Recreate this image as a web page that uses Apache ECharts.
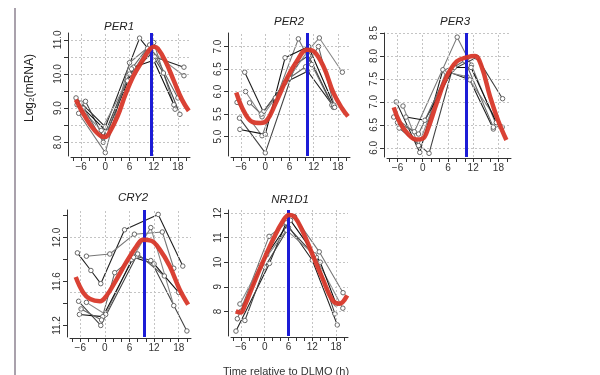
<!DOCTYPE html>
<html>
<head>
<meta charset="UTF-8">
<title>Clock gene expression relative to DLMO</title>
<script src="https://cdn.jsdelivr.net/npm/echarts@6/dist/echarts.min.js"></script>
<style>
    body { margin: 0; padding: 0; background: #fff; }
    #main { width: 600px; height: 375px; }
</style>
</head>
<body>
<div id="main"></div>
<script>
// x axis (hours relative to DLMO)
var hourTicks = [-8, -6, -4, -2, 0, 2, 4, 6, 8, 10, 12, 14, 16, 18, 20];
var hourLabels = [-6, 0, 6, 12, 18];

var genes = ['PER1', 'PER2', 'PER3', 'CRY2', 'NR1D1'];
// blue line = fitted peak time
var peakHours = [11.3, 10.5, 10.3, 9.6, 6.0];

// red fitted curves
var per1FitHours = [-7.3, -5, -3, -1, 0, 1, 3, 5, 7, 9, 11, 12, 13, 15, 17, 19, 20.7];
var per1FitValues = [9.25, 8.75, 8.4, 8.18, 8.16, 8.28, 8.75, 9.4, 9.95, 10.35, 10.72, 10.8, 10.75, 10.35, 9.8, 9.25, 8.92];
var per2FitHours = [-7.2, -5.3, -3.3, -1.2, 0.4, 2.5, 5.4, 7.8, 10.3, 11.9, 14.4, 16.9, 19, 20.5];
var per2FitValues = [5.98, 5.56, 5.33, 5.3, 5.36, 5.73, 6.3, 6.67, 6.93, 6.9, 6.56, 5.97, 5.63, 5.45];
var per3FitHours = [-6.9, -5.5, -3.5, -1.5, 0, 1.3, 3.3, 5.7, 8.1, 10.5, 12.4, 14, 16, 18, 19.9];
var per3FitValues = [6.88, 6.56, 6.3, 6.18, 6.2, 6.43, 6.97, 7.55, 7.88, 7.97, 8.0, 7.77, 7.12, 6.58, 6.17];
var cry2FitHours = [-7.1, -5.3, -3.6, -1.2, 0.4, 2.85, 5.3, 7.7, 9.3, 11.3, 13.4, 15.8, 18.2, 20.3];
var cry2FitValues = [11.64, 11.5, 11.44, 11.42, 11.47, 11.62, 11.78, 11.92, 11.98, 11.97, 11.89, 11.74, 11.53, 11.39];
var nr1d1FitHours = [-7.3, -6.1, -5, -2.9, -0.4, 2.1, 4.6, 6.1, 7.5, 9.6, 12.1, 14.6, 17.1, 18.8, 20.8];
var nr1d1FitValues = [8.0, 7.95, 8.25, 9.08, 10.03, 10.92, 11.67, 11.92, 11.85, 11.24, 10.29, 9.33, 8.45, 8.31, 8.65];

// individual subjects [hour, log2 mRNA]
var per1Subjects = [
    [[-7.25, 9.3], [0, 8.45], [8.5, 11.05], [12.25, 10.5], [19.5, 10.2]],
    [[-6.6, 8.85], [0, 7.7], [6.0, 10.33], [12.0, 10.92], [17.3, 8.97]],
    [[-4.9, 9.2], [-0.5, 8.15], [6, 10.0], [11.5, 10.6], [14.4, 10.03], [18.5, 8.82]],
    [[-7, 9.1], [-1, 8.35], [5.5, 9.8], [10.5, 10.75], [19.5, 9.95]],
    [[-5.5, 9.0], [0.5, 8.3], [7, 10.2], [12, 10.4], [17, 9.1]],
    [[-6, 9.15], [-0.5, 8.0], [6.5, 10.15], [11, 10.85], [18, 9.3]]
];
var per2Subjects = [
    [[-5.1, 6.43], [-0.5, 5.55], [4.9, 6.2], [10.5, 6.45], [16.9, 5.67]],
    [[-7, 5.76], [-0.8, 5.02], [8.2, 7.17], [11.5, 6.6], [16.5, 5.7]],
    [[-6.4, 5.41], [0, 4.64], [7.5, 6.6], [10.7, 6.8], [16.9, 5.65]],
    [[-4.9, 6.0], [-0.8, 5.44], [2.5, 5.86], [10.5, 6.9], [13.4, 7.19], [19.1, 6.43]],
    [[-6.3, 5.16], [0, 5.05], [4.9, 6.75], [10.7, 7.0], [17, 5.7]],
    [[-3.9, 5.75], [-1, 5.5], [6, 6.3], [10, 6.55], [13.2, 7.0], [17.2, 5.65]]
];
var per3Subjects = [
    [[-6.3, 7.0], [-0.7, 5.9], [4.8, 7.7], [11.2, 7.48], [16.8, 6.41]],
    [[-6.9, 6.67], [-2, 6.35], [8.2, 8.41], [11.6, 7.8], [17.5, 6.5]],
    [[-5.6, 6.43], [1.5, 5.88], [7, 7.7], [12.9, 7.97], [19, 7.07]],
    [[-4.7, 6.91], [-1, 6.05], [5.5, 7.65], [10.5, 7.55], [18.9, 6.45]],
    [[-4.0, 6.67], [0.5, 6.6], [7.5, 7.75], [11.5, 7.75], [17.5, 6.55]],
    [[-6, 6.55], [-1, 6.3], [6, 7.68], [10, 7.9], [16.8, 6.45]]
];
var cry2Subjects = [
    [[-6.7, 11.86], [-3.4, 11.7], [-1, 11.58], [4.8, 12.07], [13, 12.21], [19, 11.74]],
    [[-4.5, 11.83], [1.2, 11.85], [7.2, 12.03], [14, 12.05], [16.8, 11.72]],
    [[-6.4, 11.42], [-1, 11.2], [7.7, 11.83], [11.2, 11.79], [20, 11.15]],
    [[-4.5, 11.41], [0.2, 11.3], [6.5, 11.8], [11.2, 12.09], [16.8, 11.38]],
    [[-6.2, 11.3], [-0.5, 11.28], [7, 11.82], [12, 11.76], [18, 11.5]],
    [[-5.8, 11.35], [-0.8, 11.25], [2.4, 11.68], [8, 11.85], [14.5, 11.65]]
];
var nr1d1Subjects = [
    [[-7.25, 7.2], [1.2, 9.95], [5.4, 11.6], [12, 10.08], [18.3, 7.45]],
    [[-6.9, 7.7], [1.1, 11.05], [7.5, 11.85], [13.75, 10.42], [19.75, 8.76]],
    [[-5, 7.63], [0, 9.8], [6, 11.4], [13, 10.2], [17.7, 7.9]],
    [[-6.25, 8.3], [-1, 9.9], [5.5, 11.3], [12.5, 10.3], [19.7, 8.13]],
    [[-6, 8.0], [0.5, 10.3], [6.5, 11.7], [14, 10.0], [18, 8.3]]
];

// y ticks / labels / grid per panel
var per1Ticks = [8, 8.5, 9, 9.5, 10, 10.5, 11];
var per1Labels = [8, 9, 10, 11];
var per2Ticks = [5, 5.5, 6, 6.5, 7];
var per3Ticks = [6, 6.5, 7, 7.5, 8, 8.5];
var cry2Ticks = [11.2, 11.4, 11.6, 11.8, 12.0, 12.2];
var cry2Labels = [11.2, 11.6, 12.0];
var cry2Grid = [11.5, 12.0];
var nr1d1Ticks = [8, 9, 10, 11, 12];

var panels = [
    { fitH: per1FitHours, fitV: per1FitValues, subj: per1Subjects, ticks: per1Ticks, labels: per1Labels, grid: per1Ticks,
      min: 7.6, max: 11.2, box: [71, 33, 119, 123], title: [119, 27], dec: 1 },
    { fitH: per2FitHours, fitV: per2FitValues, subj: per2Subjects, ticks: per2Ticks, labels: per2Ticks, grid: per2Ticks,
      min: 4.57, max: 7.3, box: [231, 33, 119, 123], title: [289, 22], dec: 1 },
    { fitH: per3FitHours, fitV: per3FitValues, subj: per3Subjects, ticks: per3Ticks, labels: per3Ticks, grid: per3Ticks,
      min: 5.8, max: 8.5, box: [387, 33, 124, 124], title: [455, 22], dec: 1 },
    { fitH: cry2FitHours, fitV: cry2FitValues, subj: cry2Subjects, ticks: cry2Ticks, labels: cry2Labels, grid: cry2Grid,
      min: 11.095, max: 12.25, box: [70, 210, 121, 127], title: [133, 198], dec: 1 },
    { fitH: nr1d1FitHours, fitV: nr1d1FitValues, subj: nr1d1Subjects, ticks: nr1d1Ticks, labels: nr1d1Ticks, grid: nr1d1Ticks,
      min: 7.0, max: 12.12, box: [231, 210, 117, 126], title: [290, 200], dec: 0 }
];

var subjColors = ['#222', '#777', '#444', '#888', '#111', '#666'];

var grids = [], xAxes = [], yAxes = [], series = [], graphics = [];

panels.forEach(function (p, i) {
    grids.push({ left: p.box[0], top: p.box[1], width: p.box[2], height: p.box[3] });
    xAxes.push({
        gridIndex: i, type: 'value', min: -8.5, max: 21, offset: 1,
        axisLine: { show: true, onZero: false, lineStyle: { color: '#333', width: 1 } },
        axisTick: { show: true, customValues: hourTicks, length: 4, lineStyle: { color: '#333' } },
        axisLabel: {
            customValues: hourLabels, fontSize: 10, color: '#333', margin: 5,
            formatter: function (v) { return v < 0 ? '\u2212' + (-v) : String(v); }
        },
        splitLine: { show: false }
    });
    yAxes.push({
        gridIndex: i, type: 'value', min: p.min, max: p.max, offset: 3,
        axisLine: { show: true, onZero: false, lineStyle: { color: '#333', width: 1 } },
        axisTick: { show: true, customValues: p.ticks, length: 4, lineStyle: { color: '#333' } },
        axisLabel: {
            customValues: p.labels, fontSize: 10, color: '#333', rotate: 90, margin: 5,
            formatter: function (v) { return v.toFixed(p.dec); }
        },
        splitLine: { show: false }
    });

    // dotted background grid
    series.push({
        type: 'line', xAxisIndex: i, yAxisIndex: i, data: [], z: 1,
        markLine: {
            silent: true, symbol: ['none', 'none'], label: { show: false },
            lineStyle: { color: '#c4c4c4', type: [2, 2], width: 1 },
            emphasis: { disabled: true },
            data: hourLabels.map(function (h) { return { xAxis: h }; })
                .concat(p.grid.map(function (v) { return { yAxis: v }; }))
        }
    });

    p.subj.forEach(function (pts, k) {
        series.push({
            type: 'line', xAxisIndex: i, yAxisIndex: i, data: pts, z: 3,
            symbol: 'circle', symbolSize: 4.5,
            lineStyle: { color: subjColors[k % subjColors.length], width: 1.1 },
            itemStyle: { color: '#fff', borderColor: '#666', borderWidth: 1 }
        });
    });

    series.push({
        type: 'line', xAxisIndex: i, yAxisIndex: i, z: 5, smooth: 0.4, showSymbol: false,
        data: p.fitH.map(function (h, k) { return [h, p.fitV[k]]; }),
        lineStyle: { color: '#d8382a', width: 4.5, opacity: 0.95 }
    });

    series.push({
        type: 'line', xAxisIndex: i, yAxisIndex: i, data: [], z: 8,
        markLine: {
            silent: true, symbol: ['none', 'none'], label: { show: false },
            lineStyle: { color: '#1c1cd6', width: 3, type: 'solid' },
            emphasis: { disabled: true },
            data: [{ xAxis: peakHours[i] }]
        }
    });

    graphics.push({
        type: 'text', x: p.title[0], y: p.title[1],
        style: { text: genes[i], fill: '#222', font: 'italic 11.5px "Liberation Sans", Arial, sans-serif',
                 textAlign: 'center', textVerticalAlign: 'middle' }
    });
});

graphics.push({
    type: 'line', shape: { x1: 15, y1: 8, x2: 15, y2: 375 },
    style: { stroke: '#8d8290', lineWidth: 1.5 }
});
graphics.push({
    type: 'text', x: 30, y: 88, rotation: Math.PI / 2,
    style: { text: 'Log\u2082(mRNA)', fill: '#222', font: '12px "Liberation Sans", Arial, sans-serif',
             textAlign: 'center', textVerticalAlign: 'middle' }
});
graphics.push({
    type: 'text', x: 286, y: 366,
    style: { text: 'Time relative to DLMO (h)', fill: '#333', font: '11px "Liberation Sans", Arial, sans-serif',
             textAlign: 'center', textVerticalAlign: 'top' }
});

var myChart = echarts.init(document.getElementById('main'));
myChart.setOption({
    animation: false,
    grid: grids,
    xAxis: xAxes,
    yAxis: yAxes,
    series: series,
    graphic: graphics
});
</script>
</body>
</html>
